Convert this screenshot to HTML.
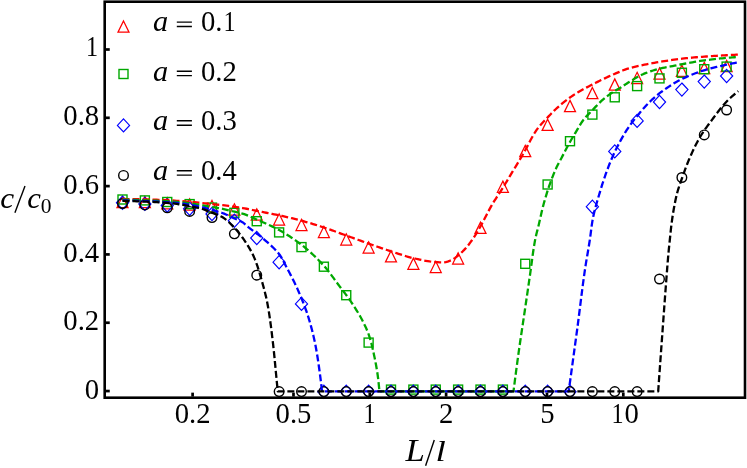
<!DOCTYPE html>
<html><head><meta charset="utf-8"><title>c/c0 vs L/l</title>
<style>
html,body{margin:0;padding:0;background:#fff;}
body{width:747px;height:468px;overflow:hidden;font-family:"Liberation Serif",serif;}
svg{display:block;}
</style></head><body>
<svg width="747" height="468" viewBox="0 0 747 468">
<rect x="0" y="0" width="747" height="468" fill="#ffffff"/>
<g fill="none" stroke-width="1.40" stroke-linejoin="miter">
<path d="M122.50,196.30 L128.00,207.50 L117.00,207.50 Z" stroke="#ff0000" stroke-width="1.25"/>
<path d="M144.88,196.30 L150.38,207.50 L139.38,207.50 Z" stroke="#ff0000" stroke-width="1.25"/>
<path d="M167.25,197.70 L172.75,208.90 L161.75,208.90 Z" stroke="#ff0000" stroke-width="1.25"/>
<path d="M189.62,198.90 L195.12,210.10 L184.12,210.10 Z" stroke="#ff0000" stroke-width="1.25"/>
<path d="M212.00,200.50 L217.50,211.70 L206.50,211.70 Z" stroke="#ff0000" stroke-width="1.25"/>
<path d="M234.38,203.80 L239.88,215.00 L228.88,215.00 Z" stroke="#ff0000" stroke-width="1.25"/>
<path d="M256.75,208.80 L262.25,220.00 L251.25,220.00 Z" stroke="#ff0000" stroke-width="1.25"/>
<path d="M279.12,213.80 L284.62,225.00 L273.62,225.00 Z" stroke="#ff0000" stroke-width="1.25"/>
<path d="M301.50,219.30 L307.00,230.50 L296.00,230.50 Z" stroke="#ff0000" stroke-width="1.25"/>
<path d="M323.88,226.30 L329.38,237.50 L318.38,237.50 Z" stroke="#ff0000" stroke-width="1.25"/>
<path d="M346.25,233.80 L351.75,245.00 L340.75,245.00 Z" stroke="#ff0000" stroke-width="1.25"/>
<path d="M368.62,241.80 L374.12,253.00 L363.12,253.00 Z" stroke="#ff0000" stroke-width="1.25"/>
<path d="M391.00,250.70 L396.50,261.90 L385.50,261.90 Z" stroke="#ff0000" stroke-width="1.25"/>
<path d="M413.38,258.10 L418.88,269.30 L407.88,269.30 Z" stroke="#ff0000" stroke-width="1.25"/>
<path d="M435.75,261.30 L441.25,272.50 L430.25,272.50 Z" stroke="#ff0000" stroke-width="1.25"/>
<path d="M458.12,252.80 L463.62,264.00 L452.62,264.00 Z" stroke="#ff0000" stroke-width="1.25"/>
<path d="M480.50,222.25 L486.00,233.45 L475.00,233.45 Z" stroke="#ff0000" stroke-width="1.25"/>
<path d="M502.88,181.10 L508.38,192.30 L497.38,192.30 Z" stroke="#ff0000" stroke-width="1.25"/>
<path d="M525.25,145.40 L530.75,156.60 L519.75,156.60 Z" stroke="#ff0000" stroke-width="1.25"/>
<path d="M547.62,119.20 L553.12,130.40 L542.12,130.40 Z" stroke="#ff0000" stroke-width="1.25"/>
<path d="M570.00,100.40 L575.50,111.60 L564.50,111.60 Z" stroke="#ff0000" stroke-width="1.25"/>
<path d="M592.38,87.50 L597.88,98.70 L586.88,98.70 Z" stroke="#ff0000" stroke-width="1.25"/>
<path d="M614.75,78.90 L620.25,90.10 L609.25,90.10 Z" stroke="#ff0000" stroke-width="1.25"/>
<path d="M637.12,72.30 L642.62,83.50 L631.62,83.50 Z" stroke="#ff0000" stroke-width="1.25"/>
<path d="M659.50,67.90 L665.00,79.10 L654.00,79.10 Z" stroke="#ff0000" stroke-width="1.25"/>
<path d="M681.88,65.20 L687.38,76.40 L676.38,76.40 Z" stroke="#ff0000" stroke-width="1.25"/>
<path d="M704.25,62.40 L709.75,73.60 L698.75,73.60 Z" stroke="#ff0000" stroke-width="1.25"/>
<path d="M726.62,60.40 L732.12,71.60 L721.12,71.60 Z" stroke="#ff0000" stroke-width="1.25"/>
<rect x="118.00" y="195.00" width="9.00" height="9.00" stroke="#00a800"/>
<rect x="140.38" y="195.90" width="9.00" height="9.00" stroke="#00a800"/>
<rect x="162.75" y="197.50" width="9.00" height="9.00" stroke="#00a800"/>
<rect x="185.12" y="199.60" width="9.00" height="9.00" stroke="#00a800"/>
<rect x="207.50" y="203.10" width="9.00" height="9.00" stroke="#00a800"/>
<rect x="229.88" y="208.30" width="9.00" height="9.00" stroke="#00a800"/>
<rect x="252.25" y="216.70" width="9.00" height="9.00" stroke="#00a800"/>
<rect x="274.62" y="227.90" width="9.00" height="9.00" stroke="#00a800"/>
<rect x="297.00" y="242.60" width="9.00" height="9.00" stroke="#00a800"/>
<rect x="319.38" y="262.20" width="9.00" height="9.00" stroke="#00a800"/>
<rect x="341.75" y="290.70" width="9.00" height="9.00" stroke="#00a800"/>
<rect x="364.12" y="338.10" width="9.00" height="9.00" stroke="#00a800"/>
<rect x="386.50" y="385.10" width="9.00" height="9.00" stroke="#00a800"/>
<rect x="408.88" y="385.10" width="9.00" height="9.00" stroke="#00a800"/>
<rect x="431.25" y="385.10" width="9.00" height="9.00" stroke="#00a800"/>
<rect x="453.62" y="385.10" width="9.00" height="9.00" stroke="#00a800"/>
<rect x="476.00" y="385.10" width="9.00" height="9.00" stroke="#00a800"/>
<rect x="498.38" y="385.10" width="9.00" height="9.00" stroke="#00a800"/>
<rect x="520.75" y="259.30" width="9.00" height="9.00" stroke="#00a800"/>
<rect x="543.12" y="180.00" width="9.00" height="9.00" stroke="#00a800"/>
<rect x="565.50" y="136.70" width="9.00" height="9.00" stroke="#00a800"/>
<rect x="587.88" y="110.10" width="9.00" height="9.00" stroke="#00a800"/>
<rect x="610.25" y="92.80" width="9.00" height="9.00" stroke="#00a800"/>
<rect x="632.62" y="81.60" width="9.00" height="9.00" stroke="#00a800"/>
<rect x="655.00" y="73.90" width="9.00" height="9.00" stroke="#00a800"/>
<rect x="677.38" y="68.25" width="9.00" height="9.00" stroke="#00a800"/>
<rect x="699.75" y="64.70" width="9.00" height="9.00" stroke="#00a800"/>
<rect x="722.12" y="62.10" width="9.00" height="9.00" stroke="#00a800"/>
<path d="M122.50,196.20 L128.60,202.80 L122.50,209.40 L116.40,202.80 Z" stroke="#0000ff" stroke-width="1.15"/>
<path d="M144.88,197.30 L150.97,203.90 L144.88,210.50 L138.78,203.90 Z" stroke="#0000ff" stroke-width="1.15"/>
<path d="M167.25,198.90 L173.35,205.50 L167.25,212.10 L161.15,205.50 Z" stroke="#0000ff" stroke-width="1.15"/>
<path d="M189.62,202.10 L195.72,208.70 L189.62,215.30 L183.53,208.70 Z" stroke="#0000ff" stroke-width="1.15"/>
<path d="M212.00,207.40 L218.10,214.00 L212.00,220.60 L205.90,214.00 Z" stroke="#0000ff" stroke-width="1.15"/>
<path d="M234.38,214.20 L240.47,220.80 L234.38,227.40 L228.28,220.80 Z" stroke="#0000ff" stroke-width="1.15"/>
<path d="M256.75,231.40 L262.85,238.00 L256.75,244.60 L250.65,238.00 Z" stroke="#0000ff" stroke-width="1.15"/>
<path d="M279.12,255.60 L285.23,262.20 L279.12,268.80 L273.02,262.20 Z" stroke="#0000ff" stroke-width="1.15"/>
<path d="M301.50,297.30 L307.60,303.90 L301.50,310.50 L295.40,303.90 Z" stroke="#0000ff" stroke-width="1.15"/>
<path d="M323.88,385.20 L329.98,391.80 L323.88,398.40 L317.77,391.80 Z" stroke="#0000ff" stroke-width="1.15"/>
<path d="M346.25,385.20 L352.35,391.80 L346.25,398.40 L340.15,391.80 Z" stroke="#0000ff" stroke-width="1.15"/>
<path d="M368.62,385.20 L374.73,391.80 L368.62,398.40 L362.52,391.80 Z" stroke="#0000ff" stroke-width="1.15"/>
<path d="M391.00,385.20 L397.10,391.80 L391.00,398.40 L384.90,391.80 Z" stroke="#0000ff" stroke-width="1.15"/>
<path d="M413.38,385.20 L419.48,391.80 L413.38,398.40 L407.27,391.80 Z" stroke="#0000ff" stroke-width="1.15"/>
<path d="M435.75,385.20 L441.85,391.80 L435.75,398.40 L429.65,391.80 Z" stroke="#0000ff" stroke-width="1.15"/>
<path d="M458.12,385.20 L464.23,391.80 L458.12,398.40 L452.02,391.80 Z" stroke="#0000ff" stroke-width="1.15"/>
<path d="M480.50,385.20 L486.60,391.80 L480.50,398.40 L474.40,391.80 Z" stroke="#0000ff" stroke-width="1.15"/>
<path d="M502.88,385.20 L508.98,391.80 L502.88,398.40 L496.77,391.80 Z" stroke="#0000ff" stroke-width="1.15"/>
<path d="M525.25,385.20 L531.35,391.80 L525.25,398.40 L519.15,391.80 Z" stroke="#0000ff" stroke-width="1.15"/>
<path d="M547.62,385.20 L553.73,391.80 L547.62,398.40 L541.52,391.80 Z" stroke="#0000ff" stroke-width="1.15"/>
<path d="M570.00,385.20 L576.10,391.80 L570.00,398.40 L563.90,391.80 Z" stroke="#0000ff" stroke-width="1.15"/>
<path d="M592.38,200.10 L598.48,206.70 L592.38,213.30 L586.27,206.70 Z" stroke="#0000ff" stroke-width="1.15"/>
<path d="M614.75,144.80 L620.85,151.40 L614.75,158.00 L608.65,151.40 Z" stroke="#0000ff" stroke-width="1.15"/>
<path d="M637.12,114.30 L643.23,120.90 L637.12,127.50 L631.02,120.90 Z" stroke="#0000ff" stroke-width="1.15"/>
<path d="M659.50,95.40 L665.60,102.00 L659.50,108.60 L653.40,102.00 Z" stroke="#0000ff" stroke-width="1.15"/>
<path d="M681.88,83.00 L687.98,89.60 L681.88,96.20 L675.77,89.60 Z" stroke="#0000ff" stroke-width="1.15"/>
<path d="M704.25,75.00 L710.35,81.60 L704.25,88.20 L698.15,81.60 Z" stroke="#0000ff" stroke-width="1.15"/>
<path d="M726.62,69.40 L732.73,76.00 L726.62,82.60 L720.52,76.00 Z" stroke="#0000ff" stroke-width="1.15"/>
<circle cx="122.50" cy="203.50" r="4.80" stroke="#000000"/>
<circle cx="144.88" cy="204.90" r="4.80" stroke="#000000"/>
<circle cx="167.25" cy="207.80" r="4.80" stroke="#000000"/>
<circle cx="189.62" cy="211.40" r="4.80" stroke="#000000"/>
<circle cx="212.00" cy="217.60" r="4.80" stroke="#000000"/>
<circle cx="234.38" cy="233.80" r="4.80" stroke="#000000"/>
<circle cx="256.75" cy="275.20" r="4.80" stroke="#000000"/>
<circle cx="279.12" cy="391.60" r="4.80" stroke="#000000"/>
<circle cx="301.50" cy="391.60" r="4.80" stroke="#000000"/>
<circle cx="323.88" cy="391.60" r="4.80" stroke="#000000"/>
<circle cx="346.25" cy="391.60" r="4.80" stroke="#000000"/>
<circle cx="368.62" cy="391.60" r="4.80" stroke="#000000"/>
<circle cx="391.00" cy="391.60" r="4.80" stroke="#000000"/>
<circle cx="413.38" cy="391.60" r="4.80" stroke="#000000"/>
<circle cx="435.75" cy="391.60" r="4.80" stroke="#000000"/>
<circle cx="458.12" cy="391.60" r="4.80" stroke="#000000"/>
<circle cx="480.50" cy="391.60" r="4.80" stroke="#000000"/>
<circle cx="502.88" cy="391.60" r="4.80" stroke="#000000"/>
<circle cx="525.25" cy="391.60" r="4.80" stroke="#000000"/>
<circle cx="547.62" cy="391.60" r="4.80" stroke="#000000"/>
<circle cx="570.00" cy="391.60" r="4.80" stroke="#000000"/>
<circle cx="592.38" cy="391.60" r="4.80" stroke="#000000"/>
<circle cx="614.75" cy="391.60" r="4.80" stroke="#000000"/>
<circle cx="637.12" cy="391.60" r="4.80" stroke="#000000"/>
<circle cx="659.50" cy="279.00" r="4.80" stroke="#000000"/>
<circle cx="681.88" cy="177.50" r="4.80" stroke="#000000"/>
<circle cx="704.25" cy="134.90" r="4.80" stroke="#000000"/>
<circle cx="726.62" cy="110.00" r="4.80" stroke="#000000"/>
</g>
<g fill="none" stroke-width="2.30" stroke-dasharray="7.0 3.0" stroke-linejoin="round">
<path d="M122.50,199.00 L124.51,199.02 L126.52,199.04 L128.53,199.07 L130.54,199.10 L132.54,199.14 L134.55,199.17 L136.56,199.21 L138.57,199.25 L140.58,199.30 L142.59,199.34 L144.60,199.39 L146.60,199.44 L148.61,199.49 L150.62,199.55 L152.63,199.61 L154.64,199.68 L156.65,199.74 L158.65,199.82 L160.66,199.90 L162.67,199.98 L164.68,200.07 L166.68,200.16 L168.69,200.25 L170.69,200.37 L172.70,200.50 L174.70,200.64 L176.71,200.78 L178.71,200.93 L180.71,201.07 L182.72,201.22 L184.72,201.37 L186.72,201.53 L188.73,201.69 L190.73,201.86 L192.73,202.05 L194.73,202.24 L196.73,202.43 L198.73,202.64 L200.73,202.85 L202.72,203.06 L204.72,203.28 L206.72,203.50 L208.71,203.73 L210.71,203.96 L212.71,204.17 L214.71,204.38 L216.71,204.57 L218.71,204.76 L220.70,204.97 L222.70,205.19 L224.69,205.43 L226.69,205.70 L228.68,205.97 L230.66,206.26 L232.65,206.55 L234.64,206.83 L236.63,207.12 L238.62,207.40 L240.61,207.69 L242.59,208.02 L244.57,208.37 L246.54,208.75 L248.50,209.16 L250.47,209.58 L252.44,210.00 L254.40,210.42 L256.37,210.83 L258.34,211.23 L260.31,211.61 L262.28,211.99 L264.26,212.37 L266.23,212.75 L268.20,213.12 L270.18,213.51 L272.15,213.89 L274.12,214.28 L276.09,214.68 L278.05,215.10 L280.02,215.52 L281.98,215.95 L283.94,216.39 L285.90,216.84 L287.86,217.29 L289.81,217.75 L291.77,218.22 L293.72,218.70 L295.67,219.18 L297.62,219.68 L299.56,220.19 L301.50,220.70 L303.44,221.23 L305.37,221.77 L307.30,222.32 L309.23,222.89 L311.16,223.46 L313.08,224.05 L315.00,224.64 L316.92,225.24 L318.83,225.85 L320.75,226.47 L322.66,227.09 L324.56,227.72 L326.47,228.36 L328.36,229.01 L330.26,229.68 L332.15,230.35 L334.04,231.04 L335.93,231.72 L337.82,232.42 L339.70,233.11 L341.59,233.80 L343.48,234.49 L345.37,235.18 L347.26,235.86 L349.14,236.55 L351.03,237.23 L352.92,237.92 L354.81,238.61 L356.69,239.30 L358.58,239.99 L360.47,240.68 L362.36,241.37 L364.25,242.05 L366.14,242.73 L368.03,243.40 L369.92,244.07 L371.82,244.74 L373.71,245.40 L375.61,246.07 L377.51,246.73 L379.40,247.39 L381.30,248.05 L383.20,248.70 L385.11,249.34 L387.01,249.98 L388.92,250.62 L390.83,251.24 L392.74,251.87 L394.64,252.51 L396.55,253.15 L398.46,253.80 L400.37,254.44 L402.29,255.07 L404.20,255.68 L406.13,256.27 L408.05,256.83 L409.99,257.36 L411.93,257.86 L413.87,258.31 L415.83,258.75 L417.79,259.19 L419.76,259.62 L421.73,260.04 L423.71,260.44 L425.69,260.82 L427.68,261.16 L429.67,261.47 L431.66,261.73 L433.65,261.94 L435.65,262.10 L437.65,262.22 L439.67,262.32 L441.68,262.39 L443.67,262.38 L445.67,262.09 L447.66,261.57 L449.58,260.91 L451.40,260.21 L453.14,259.27 L454.82,258.12 L456.44,256.85 L458.01,255.57 L459.55,254.30 L461.05,252.96 L462.52,251.56 L463.94,250.13 L465.32,248.66 L466.65,247.16 L467.93,245.63 L469.16,244.05 L470.36,242.43 L471.53,240.79 L472.67,239.12 L473.79,237.44 L474.89,235.77 L475.96,234.07 L477.01,232.36 L478.03,230.63 L479.04,228.89 L480.04,227.14 L481.02,225.39 L481.99,223.63 L482.94,221.86 L483.87,220.08 L484.80,218.29 L485.72,216.50 L486.64,214.71 L487.56,212.93 L488.49,211.15 L489.43,209.37 L490.39,207.61 L491.37,205.86 L492.38,204.12 L493.42,202.41 L494.48,200.70 L495.56,199.01 L496.65,197.33 L497.76,195.65 L498.86,193.97 L499.97,192.29 L501.06,190.60 L502.15,188.91 L503.21,187.20 L504.26,185.49 L505.30,183.77 L506.34,182.05 L507.37,180.33 L508.40,178.60 L509.43,176.88 L510.46,175.15 L511.49,173.42 L512.52,171.70 L513.55,169.98 L514.60,168.26 L515.64,166.54 L516.68,164.83 L517.73,163.11 L518.77,161.39 L519.81,159.67 L520.84,157.95 L521.87,156.22 L522.88,154.49 L523.87,152.74 L524.84,150.97 L525.80,149.19 L526.74,147.40 L527.67,145.60 L528.60,143.80 L529.53,142.00 L530.47,140.22 L531.43,138.45 L532.41,136.69 L533.41,134.96 L534.44,133.25 L535.51,131.57 L536.62,129.93 L537.79,128.33 L539.02,126.77 L540.31,125.23 L541.64,123.72 L543.01,122.23 L544.40,120.76 L545.80,119.30 L547.19,117.84 L548.57,116.38 L549.96,114.93 L551.36,113.49 L552.78,112.06 L554.21,110.64 L555.67,109.26 L557.14,107.90 L558.63,106.56 L560.15,105.25 L561.69,103.95 L563.24,102.67 L564.82,101.42 L566.41,100.18 L568.01,98.97 L569.63,97.79 L571.27,96.64 L572.93,95.50 L574.61,94.40 L576.31,93.31 L578.02,92.26 L579.74,91.23 L581.48,90.22 L583.23,89.25 L585.00,88.30 L586.79,87.37 L588.58,86.45 L590.37,85.54 L592.16,84.62 L593.95,83.71 L595.73,82.79 L597.52,81.88 L599.32,80.97 L601.12,80.08 L602.93,79.20 L604.74,78.34 L606.56,77.49 L608.38,76.65 L610.21,75.82 L612.05,75.00 L613.89,74.19 L615.73,73.39 L617.58,72.60 L619.44,71.83 L621.29,71.06 L623.16,70.29 L625.03,69.56 L626.93,68.92 L628.84,68.37 L630.77,67.84 L632.70,67.34 L634.65,66.85 L636.60,66.39 L638.56,65.94 L640.53,65.51 L642.50,65.09 L644.47,64.69 L646.45,64.30 L648.44,63.92 L650.42,63.55 L652.40,63.19 L654.39,62.83 L656.37,62.48 L658.35,62.13 L660.32,61.79 L662.30,61.45 L664.29,61.13 L666.27,60.82 L668.26,60.53 L670.25,60.24 L672.24,59.96 L674.23,59.69 L676.22,59.43 L678.22,59.17 L680.21,58.92 L682.20,58.67 L684.20,58.44 L686.20,58.21 L688.19,58.00 L690.19,57.80 L692.19,57.62 L694.19,57.44 L696.19,57.27 L698.19,57.11 L700.20,56.95 L702.20,56.80 L704.20,56.65 L706.21,56.51 L708.21,56.37 L710.22,56.23 L712.22,56.10 L714.23,55.97 L716.23,55.84 L718.24,55.71 L720.25,55.59 L722.25,55.47 L724.26,55.35 L726.26,55.23 L728.27,55.12 L730.27,55.01 L732.28,54.90 L734.29,54.80 L736.29,54.70 L738.30,54.60" stroke="#ff0000"/>
<path d="M122.50,199.60 L124.52,199.65 L126.53,199.71 L128.55,199.77 L130.57,199.83 L132.58,199.89 L134.60,199.95 L136.61,200.02 L138.63,200.08 L140.65,200.15 L142.66,200.22 L144.68,200.29 L146.69,200.36 L148.71,200.43 L150.73,200.50 L152.74,200.56 L154.76,200.64 L156.77,200.71 L158.79,200.79 L160.81,200.87 L162.82,200.96 L164.83,201.05 L166.85,201.16 L168.86,201.28 L170.87,201.42 L172.88,201.58 L174.89,201.75 L176.90,201.94 L178.91,202.13 L180.92,202.31 L182.93,202.51 L184.94,202.71 L186.94,202.93 L188.94,203.17 L190.94,203.43 L192.94,203.72 L194.93,204.04 L196.92,204.38 L198.90,204.73 L200.89,205.08 L202.88,205.42 L204.87,205.76 L206.86,206.10 L208.84,206.45 L210.83,206.80 L212.82,207.14 L214.81,207.48 L216.80,207.81 L218.79,208.15 L220.77,208.51 L222.75,208.89 L224.72,209.31 L226.68,209.77 L228.64,210.26 L230.60,210.76 L232.55,211.25 L234.52,211.73 L236.49,212.17 L238.47,212.60 L240.43,213.05 L242.37,213.56 L244.28,214.17 L246.17,214.86 L248.04,215.61 L249.89,216.41 L251.74,217.25 L253.59,218.09 L255.43,218.93 L257.27,219.75 L259.12,220.56 L260.97,221.37 L262.82,222.19 L264.67,223.01 L266.52,223.84 L268.36,224.68 L270.19,225.54 L272.01,226.41 L273.82,227.29 L275.62,228.20 L277.40,229.13 L279.16,230.09 L280.91,231.07 L282.66,232.07 L284.39,233.10 L286.12,234.15 L287.85,235.22 L289.56,236.32 L291.25,237.43 L292.94,238.56 L294.60,239.71 L296.25,240.88 L297.89,242.06 L299.50,243.26 L301.09,244.48 L302.66,245.71 L304.22,246.97 L305.77,248.25 L307.31,249.56 L308.84,250.88 L310.36,252.23 L311.86,253.60 L313.34,254.98 L314.81,256.39 L316.27,257.80 L317.70,259.23 L319.12,260.68 L320.52,262.14 L321.90,263.60 L323.25,265.08 L324.58,266.57 L325.89,268.09 L327.16,269.64 L328.42,271.22 L329.65,272.82 L330.87,274.43 L332.07,276.06 L333.27,277.69 L334.46,279.33 L335.66,280.96 L336.86,282.59 L338.06,284.21 L339.27,285.83 L340.49,287.43 L341.72,289.04 L342.94,290.65 L344.16,292.26 L345.37,293.88 L346.58,295.50 L347.77,297.12 L348.95,298.76 L350.10,300.41 L351.24,302.07 L352.36,303.74 L353.47,305.43 L354.57,307.12 L355.66,308.82 L356.73,310.54 L357.79,312.26 L358.83,314.00 L359.84,315.74 L360.82,317.50 L361.77,319.28 L362.69,321.06 L363.59,322.86 L364.49,324.68 L365.37,326.51 L366.21,328.35 L367.02,330.21 L367.79,332.08 L368.50,333.96 L369.15,335.85 L369.75,337.76 L370.33,339.68 L370.88,341.62 L371.40,343.57 L371.90,345.53 L372.38,347.50 L372.84,349.47 L373.29,351.45 L373.72,353.43 L374.13,355.40 L374.54,357.37 L374.94,359.35 L375.33,361.33 L375.72,363.31 L376.09,365.30 L376.44,367.28 L376.78,369.27 L377.11,371.27 L377.41,373.26 L377.70,375.26 L377.96,377.25 L378.21,379.25 L378.44,381.25 L378.66,383.26 L378.87,385.27 L379.06,387.28 L379.24,389.29 L379.40,391.30 L513.50,391.30 L513.75,389.31 L514.00,387.31 L514.26,385.32 L514.52,383.33 L514.77,381.33 L515.03,379.34 L515.29,377.35 L515.55,375.36 L515.82,373.37 L516.08,371.37 L516.35,369.38 L516.61,367.39 L516.88,365.40 L517.15,363.41 L517.42,361.42 L517.69,359.43 L517.97,357.44 L518.24,355.45 L518.52,353.46 L518.79,351.47 L519.07,349.48 L519.35,347.49 L519.64,345.50 L519.92,343.51 L520.21,341.52 L520.50,339.54 L520.79,337.55 L521.09,335.56 L521.38,333.57 L521.68,331.59 L521.98,329.60 L522.27,327.61 L522.57,325.62 L522.87,323.64 L523.17,321.65 L523.47,319.66 L523.76,317.68 L524.06,315.69 L524.35,313.70 L524.65,311.71 L524.94,309.73 L525.23,307.74 L525.52,305.75 L525.81,303.76 L526.10,301.77 L526.39,299.79 L526.68,297.80 L526.97,295.81 L527.26,293.82 L527.55,291.83 L527.84,289.85 L528.13,287.86 L528.42,285.87 L528.71,283.88 L529.00,281.89 L529.29,279.90 L529.58,277.92 L529.86,275.93 L530.15,273.94 L530.43,271.95 L530.71,269.96 L530.98,267.96 L531.24,265.97 L531.51,263.98 L531.77,261.98 L532.04,259.99 L532.30,257.99 L532.57,256.00 L532.85,254.01 L533.13,252.02 L533.43,250.03 L533.73,248.05 L534.04,246.07 L534.37,244.09 L534.71,242.11 L535.07,240.14 L535.46,238.18 L535.90,236.22 L536.36,234.26 L536.85,232.31 L537.35,230.36 L537.85,228.41 L538.34,226.46 L538.82,224.51 L539.27,222.55 L539.72,220.59 L540.16,218.63 L540.60,216.67 L541.04,214.71 L541.49,212.75 L541.95,210.79 L542.42,208.84 L542.90,206.89 L543.41,204.95 L543.93,203.01 L544.47,201.08 L545.02,199.15 L545.59,197.22 L546.18,195.29 L546.77,193.37 L547.38,191.45 L548.01,189.54 L548.64,187.64 L549.29,185.74 L549.95,183.84 L550.62,181.95 L551.31,180.06 L552.02,178.18 L552.75,176.30 L553.50,174.43 L554.26,172.57 L555.05,170.72 L555.86,168.89 L556.69,167.07 L557.58,165.27 L558.50,163.48 L559.45,161.71 L560.42,159.95 L561.37,158.18 L562.31,156.40 L563.24,154.62 L564.17,152.83 L565.09,151.05 L566.02,149.26 L566.95,147.49 L567.90,145.71 L568.85,143.95 L569.83,142.19 L570.82,140.45 L571.83,138.71 L572.86,136.98 L573.89,135.26 L574.93,133.54 L575.97,131.82 L577.00,130.08 L578.01,128.34 L579.04,126.59 L580.08,124.87 L581.15,123.17 L582.26,121.50 L583.43,119.89 L584.67,118.34 L585.98,116.83 L587.35,115.36 L588.76,113.91 L590.18,112.47 L591.60,111.03 L592.99,109.58 L594.37,108.12 L595.75,106.65 L597.14,105.18 L598.54,103.74 L599.96,102.32 L601.42,100.94 L602.90,99.61 L604.44,98.32 L606.01,97.07 L607.61,95.85 L609.25,94.66 L610.90,93.51 L612.56,92.39 L614.26,91.34 L616.00,90.33 L617.75,89.33 L619.49,88.32 L621.19,87.24 L622.86,86.13 L624.53,85.01 L626.20,83.90 L627.91,82.84 L629.61,81.76 L631.32,80.68 L633.04,79.60 L634.76,78.54 L636.50,77.52 L638.25,76.53 L640.02,75.59 L641.81,74.73 L643.63,73.93 L645.48,73.18 L647.35,72.46 L649.24,71.77 L651.15,71.11 L653.08,70.49 L655.01,69.90 L656.95,69.36 L658.89,68.85 L660.84,68.39 L662.80,67.97 L664.77,67.58 L666.75,67.21 L668.73,66.85 L670.71,66.49 L672.68,66.10 L674.65,65.70 L676.62,65.30 L678.59,64.89 L680.56,64.50 L682.53,64.12 L684.51,63.75 L686.48,63.37 L688.46,63.00 L690.43,62.62 L692.41,62.26 L694.39,61.91 L696.37,61.56 L698.35,61.24 L700.34,60.93 L702.32,60.64 L704.31,60.37 L706.30,60.12 L708.29,59.87 L710.28,59.62 L712.28,59.38 L714.27,59.15 L716.26,58.92 L718.26,58.70 L720.26,58.48 L722.26,58.28 L724.26,58.08 L726.26,57.89 L728.26,57.72 L730.27,57.55 L732.27,57.39 L734.28,57.25 L736.29,57.12 L738.30,57.00" stroke="#00a800"/>
<path d="M122.50,200.40 L124.52,200.45 L126.54,200.50 L128.56,200.55 L130.57,200.61 L132.59,200.67 L134.61,200.73 L136.63,200.80 L138.65,200.87 L140.66,200.94 L142.68,201.01 L144.70,201.09 L146.72,201.17 L148.73,201.25 L150.75,201.33 L152.77,201.41 L154.79,201.50 L156.80,201.60 L158.82,201.70 L160.84,201.80 L162.85,201.91 L164.87,202.03 L166.88,202.15 L168.90,202.29 L170.91,202.44 L172.92,202.61 L174.93,202.80 L176.94,203.00 L178.95,203.22 L180.95,203.45 L182.96,203.71 L184.96,203.99 L186.95,204.30 L188.95,204.62 L190.94,204.96 L192.92,205.32 L194.91,205.71 L196.89,206.11 L198.86,206.54 L200.83,206.98 L202.79,207.44 L204.75,207.94 L206.70,208.48 L208.64,209.03 L210.58,209.59 L212.52,210.15 L214.47,210.69 L216.42,211.23 L218.37,211.78 L220.30,212.37 L222.21,212.99 L224.09,213.69 L225.96,214.45 L227.80,215.28 L229.63,216.14 L231.46,217.01 L233.29,217.88 L235.12,218.73 L237.00,219.53 L238.87,220.34 L240.70,221.20 L242.43,222.16 L244.05,223.32 L245.57,224.65 L247.08,226.03 L248.62,227.34 L250.21,228.60 L251.81,229.83 L253.42,231.06 L255.04,232.27 L256.66,233.48 L258.27,234.70 L259.87,235.94 L261.45,237.19 L263.00,238.48 L264.52,239.79 L266.03,241.13 L267.56,242.47 L269.09,243.83 L270.62,245.20 L272.12,246.59 L273.60,248.00 L275.04,249.45 L276.43,250.92 L277.75,252.42 L279.01,253.96 L280.19,255.54 L281.27,257.20 L282.26,258.95 L283.20,260.76 L284.12,262.58 L285.05,264.38 L286.00,266.17 L286.94,267.95 L287.89,269.74 L288.83,271.53 L289.77,273.32 L290.71,275.11 L291.64,276.91 L292.55,278.71 L293.46,280.52 L294.35,282.33 L295.24,284.15 L296.10,285.97 L296.95,287.80 L297.77,289.63 L298.58,291.48 L299.37,293.33 L300.16,295.19 L300.94,297.05 L301.71,298.92 L302.47,300.80 L303.22,302.68 L303.95,304.57 L304.67,306.46 L305.37,308.36 L306.06,310.26 L306.73,312.17 L307.37,314.08 L307.99,316.00 L308.59,317.92 L309.17,319.84 L309.74,321.77 L310.29,323.71 L310.83,325.66 L311.36,327.61 L311.88,329.57 L312.39,331.53 L312.87,333.49 L313.35,335.46 L313.81,337.43 L314.25,339.40 L314.68,341.38 L315.08,343.35 L315.47,345.33 L315.84,347.31 L316.20,349.29 L316.55,351.28 L316.89,353.26 L317.22,355.26 L317.54,357.25 L317.85,359.25 L318.15,361.24 L318.45,363.24 L318.73,365.24 L319.01,367.25 L319.29,369.25 L319.56,371.25 L319.83,373.26 L320.09,375.26 L320.35,377.26 L320.61,379.27 L320.86,381.27 L321.10,383.27 L321.34,385.28 L321.56,387.28 L321.78,389.29 L322.00,391.30 L568.70,391.30 L568.97,389.31 L569.25,387.31 L569.52,385.32 L569.80,383.32 L570.07,381.33 L570.35,379.34 L570.62,377.34 L570.90,375.35 L571.17,373.35 L571.44,371.36 L571.72,369.37 L571.99,367.37 L572.26,365.38 L572.54,363.38 L572.81,361.39 L573.08,359.40 L573.36,357.40 L573.63,355.41 L573.90,353.41 L574.18,351.42 L574.45,349.43 L574.72,347.43 L575.00,345.44 L575.27,343.44 L575.54,341.45 L575.82,339.45 L576.09,337.46 L576.36,335.47 L576.63,333.47 L576.90,331.48 L577.16,329.48 L577.43,327.49 L577.69,325.49 L577.95,323.49 L578.21,321.50 L578.46,319.50 L578.72,317.50 L578.97,315.51 L579.22,313.51 L579.47,311.51 L579.72,309.51 L579.97,307.52 L580.22,305.52 L580.46,303.52 L580.71,301.52 L580.96,299.53 L581.21,297.53 L581.46,295.53 L581.72,293.53 L581.97,291.54 L582.23,289.54 L582.49,287.54 L582.75,285.55 L583.01,283.55 L583.28,281.56 L583.55,279.57 L583.82,277.57 L584.10,275.58 L584.38,273.59 L584.67,271.59 L584.96,269.60 L585.26,267.61 L585.57,265.63 L585.89,263.64 L586.21,261.65 L586.54,259.67 L586.88,257.68 L587.22,255.70 L587.56,253.71 L587.90,251.73 L588.23,249.74 L588.56,247.76 L588.89,245.77 L589.21,243.79 L589.53,241.80 L589.83,239.81 L590.11,237.81 L590.38,235.82 L590.64,233.82 L590.90,231.82 L591.15,229.82 L591.41,227.82 L591.68,225.82 L591.97,223.83 L592.28,221.85 L592.62,219.88 L593.00,217.91 L593.40,215.94 L593.84,213.98 L594.30,212.02 L594.78,210.07 L595.29,208.12 L595.82,206.17 L596.36,204.23 L596.91,202.29 L597.47,200.35 L598.04,198.41 L598.61,196.48 L599.19,194.54 L599.76,192.61 L600.33,190.68 L600.91,188.76 L601.50,186.83 L602.10,184.91 L602.71,182.99 L603.34,181.08 L603.98,179.17 L604.63,177.26 L605.29,175.36 L605.95,173.46 L606.64,171.57 L607.33,169.68 L608.04,167.79 L608.76,165.91 L609.49,164.04 L610.25,162.17 L611.01,160.31 L611.80,158.46 L612.61,156.62 L613.43,154.78 L614.28,152.95 L615.14,151.13 L616.03,149.32 L616.92,147.52 L617.84,145.73 L618.76,143.95 L619.71,142.17 L620.67,140.39 L621.64,138.62 L622.63,136.87 L623.65,135.12 L624.68,133.39 L625.73,131.67 L626.80,129.98 L627.90,128.30 L629.03,126.64 L630.19,125.00 L631.38,123.38 L632.60,121.77 L633.84,120.17 L635.09,118.59 L636.35,117.02 L637.62,115.46 L638.90,113.91 L640.19,112.36 L641.49,110.82 L642.81,109.29 L644.15,107.78 L645.50,106.28 L646.87,104.81 L648.26,103.35 L649.67,101.93 L651.10,100.53 L652.57,99.14 L654.06,97.78 L655.58,96.45 L657.13,95.16 L658.70,93.91 L660.29,92.70 L661.90,91.50 L663.53,90.31 L665.18,89.14 L666.84,87.98 L668.52,86.84 L670.22,85.73 L671.93,84.64 L673.65,83.57 L675.39,82.54 L677.14,81.55 L678.90,80.59 L680.67,79.67 L682.45,78.79 L684.25,77.93 L686.07,77.09 L687.92,76.28 L689.77,75.48 L691.64,74.71 L693.53,73.97 L695.42,73.25 L697.32,72.55 L699.23,71.88 L701.14,71.24 L703.06,70.62 L704.97,70.04 L706.89,69.47 L708.83,68.94 L710.77,68.42 L712.72,67.92 L714.68,67.43 L716.64,66.96 L718.60,66.50 L720.57,66.05 L722.54,65.61 L724.51,65.17 L726.47,64.73 L728.44,64.30 L730.40,63.88 L732.37,63.47 L734.35,63.07 L736.32,62.68 L738.30,62.30" stroke="#0000ff"/>
<path d="M122.50,200.90 L124.52,200.94 L126.53,200.98 L128.55,201.03 L130.56,201.09 L132.58,201.15 L134.59,201.21 L136.61,201.28 L138.62,201.35 L140.64,201.43 L142.65,201.51 L144.66,201.59 L146.68,201.67 L148.69,201.76 L150.71,201.85 L152.72,201.95 L154.74,202.05 L156.75,202.16 L158.76,202.28 L160.78,202.40 L162.79,202.54 L164.80,202.68 L166.80,202.84 L168.81,203.01 L170.81,203.21 L172.82,203.45 L174.82,203.71 L176.82,203.98 L178.81,204.27 L180.81,204.57 L182.80,204.88 L184.78,205.23 L186.77,205.58 L188.75,205.96 L190.73,206.34 L192.71,206.73 L194.69,207.12 L196.67,207.54 L198.64,207.98 L200.59,208.46 L202.52,208.99 L204.43,209.62 L206.32,210.33 L208.19,211.10 L210.05,211.88 L211.92,212.67 L213.80,213.42 L215.71,214.15 L217.61,214.91 L219.48,215.70 L221.28,216.56 L222.99,217.51 L224.62,218.60 L226.21,219.81 L227.75,221.12 L229.26,222.51 L230.72,223.95 L232.15,225.42 L233.55,226.90 L234.92,228.36 L236.27,229.85 L237.59,231.37 L238.89,232.93 L240.16,234.51 L241.40,236.12 L242.60,237.74 L243.77,239.39 L244.90,241.05 L246.00,242.72 L247.09,244.42 L248.16,246.14 L249.21,247.88 L250.23,249.63 L251.21,251.41 L252.15,253.20 L253.04,255.01 L253.88,256.83 L254.66,258.66 L255.40,260.52 L256.11,262.40 L256.79,264.29 L257.44,266.21 L258.07,268.13 L258.68,270.07 L259.27,272.01 L259.84,273.95 L260.41,275.89 L260.96,277.82 L261.52,279.76 L262.07,281.70 L262.61,283.64 L263.15,285.59 L263.68,287.54 L264.20,289.49 L264.70,291.45 L265.19,293.41 L265.67,295.37 L266.13,297.33 L266.56,299.30 L266.98,301.27 L267.37,303.24 L267.74,305.22 L268.09,307.20 L268.43,309.18 L268.75,311.16 L269.07,313.15 L269.37,315.14 L269.67,317.14 L269.96,319.13 L270.24,321.13 L270.51,323.13 L270.78,325.13 L271.04,327.13 L271.29,329.14 L271.54,331.14 L271.78,333.15 L272.02,335.15 L272.26,337.15 L272.50,339.16 L272.73,341.16 L272.97,343.16 L273.19,345.16 L273.41,347.17 L273.63,349.17 L273.84,351.17 L274.05,353.18 L274.25,355.18 L274.45,357.19 L274.65,359.20 L274.84,361.20 L275.03,363.21 L275.22,365.22 L275.41,367.23 L275.60,369.23 L275.79,371.24 L275.98,373.25 L276.18,375.25 L276.37,377.26 L276.57,379.27 L276.76,381.27 L276.97,383.28 L277.17,385.29 L277.38,387.29 L277.59,389.30 L277.80,391.30 L658.20,391.30 L658.34,389.28 L658.49,387.26 L658.63,385.24 L658.77,383.22 L658.91,381.20 L659.06,379.18 L659.20,377.16 L659.35,375.14 L659.49,373.12 L659.63,371.10 L659.78,369.09 L659.92,367.07 L660.07,365.05 L660.21,363.03 L660.36,361.01 L660.50,358.99 L660.65,356.97 L660.79,354.95 L660.94,352.93 L661.08,350.91 L661.23,348.89 L661.37,346.87 L661.52,344.85 L661.67,342.83 L661.81,340.81 L661.96,338.80 L662.11,336.78 L662.25,334.76 L662.40,332.74 L662.55,330.72 L662.69,328.70 L662.84,326.68 L662.99,324.66 L663.14,322.64 L663.28,320.62 L663.43,318.60 L663.58,316.58 L663.72,314.56 L663.87,312.55 L664.02,310.53 L664.17,308.51 L664.31,306.49 L664.46,304.47 L664.61,302.45 L664.76,300.43 L664.91,298.41 L665.06,296.39 L665.21,294.37 L665.36,292.35 L665.51,290.34 L665.66,288.32 L665.82,286.30 L665.97,284.28 L666.13,282.26 L666.28,280.24 L666.44,278.22 L666.59,276.20 L666.75,274.19 L666.90,272.17 L667.06,270.15 L667.21,268.13 L667.37,266.11 L667.53,264.09 L667.69,262.07 L667.86,260.06 L668.03,258.04 L668.21,256.02 L668.39,254.01 L668.58,251.99 L668.77,249.98 L668.98,247.96 L669.18,245.95 L669.39,243.93 L669.60,241.92 L669.81,239.91 L670.02,237.89 L670.22,235.88 L670.43,233.86 L670.63,231.85 L670.84,229.83 L671.06,227.82 L671.29,225.81 L671.54,223.80 L671.80,221.79 L672.08,219.79 L672.37,217.79 L672.67,215.78 L672.98,213.78 L673.31,211.77 L673.65,209.77 L674.01,207.77 L674.37,205.78 L674.76,203.79 L675.16,201.80 L675.57,199.82 L676.00,197.84 L676.45,195.88 L676.92,193.92 L677.43,191.97 L677.99,190.03 L678.59,188.09 L679.23,186.17 L679.88,184.25 L680.55,182.33 L681.23,180.41 L681.90,178.50 L682.57,176.59 L683.24,174.68 L683.92,172.77 L684.62,170.87 L685.32,168.97 L686.03,167.07 L686.76,165.18 L687.50,163.29 L688.26,161.41 L689.03,159.54 L689.82,157.68 L690.62,155.83 L691.45,153.99 L692.29,152.14 L693.14,150.30 L694.02,148.47 L694.91,146.64 L695.83,144.82 L696.76,143.02 L697.71,141.23 L698.69,139.46 L699.68,137.71 L700.70,135.97 L701.75,134.26 L702.84,132.56 L703.97,130.88 L705.12,129.21 L706.30,127.56 L707.49,125.91 L708.70,124.28 L709.91,122.65 L711.13,121.03 L712.35,119.41 L713.55,117.78 L714.76,116.15 L715.97,114.52 L717.19,112.89 L718.42,111.27 L719.66,109.66 L720.92,108.07 L722.21,106.50 L723.51,104.96 L724.85,103.45 L726.21,101.98 L727.61,100.55 L729.05,99.14 L730.52,97.75 L732.02,96.39 L733.55,95.06 L735.11,93.75 L736.69,92.46 L738.30,91.20" stroke="#000000" stroke-width="2.3"/>
</g>
<rect x="104.70" y="1.70" width="640.30" height="396.00" fill="none" stroke="#000" stroke-width="2.60"/>
<g stroke="#000" stroke-width="2.70">
<line x1="105.80" y1="391.05" x2="109.75" y2="391.05"/>
<line x1="105.80" y1="322.74" x2="109.75" y2="322.74"/>
<line x1="105.80" y1="254.43" x2="109.75" y2="254.43"/>
<line x1="105.80" y1="186.12" x2="109.75" y2="186.12"/>
<line x1="105.80" y1="117.81" x2="109.75" y2="117.81"/>
<line x1="105.80" y1="49.50" x2="109.75" y2="49.50"/>
<line x1="192.61" y1="396.60" x2="192.61" y2="392.65"/>
<line x1="293.49" y1="396.60" x2="293.49" y2="392.65"/>
<line x1="369.80" y1="396.60" x2="369.80" y2="392.65"/>
<line x1="446.11" y1="396.60" x2="446.11" y2="392.65"/>
<line x1="546.99" y1="396.60" x2="546.99" y2="392.65"/>
<line x1="623.30" y1="396.60" x2="623.30" y2="392.65"/>
</g>
<g font-family="'Liberation Serif', serif" fill="#000" style="opacity:0.999">
<text transform="translate(99.20,398.65) scale(1.000,1.020)" font-size="28.70" text-anchor="end">0</text>
<text transform="translate(99.20,330.34) scale(1.000,1.020)" font-size="28.70" text-anchor="end">0.2</text>
<text transform="translate(99.20,262.03) scale(1.000,1.020)" font-size="28.70" text-anchor="end">0.4</text>
<text transform="translate(99.20,193.72) scale(1.000,1.020)" font-size="28.70" text-anchor="end">0.6</text>
<text transform="translate(99.20,125.41) scale(1.000,1.020)" font-size="28.70" text-anchor="end">0.8</text>
<text transform="translate(91.93,56.30) scale(0.840,1.045)" font-size="28.70" text-anchor="middle">1</text>
<text transform="translate(192.61,422.90) scale(1.000,1.020)" font-size="28.70" text-anchor="middle">0.2</text>
<text transform="translate(293.49,422.90) scale(1.000,1.020)" font-size="28.70" text-anchor="middle">0.5</text>
<text transform="translate(446.11,422.90) scale(1.000,1.020)" font-size="28.70" text-anchor="middle">2</text>
<text transform="translate(547.29,422.90) scale(1.000,1.020)" font-size="28.70" text-anchor="middle">5</text>
<text transform="translate(369.60,422.90) scale(0.840,1.045)" font-size="28.70" text-anchor="middle">1</text>
<text transform="translate(617.62,422.90) scale(0.840,1.045)" font-size="28.70" text-anchor="middle">1</text>
<text transform="translate(624.50,422.90) scale(1.000,1.020)" font-size="28.70" text-anchor="start">0</text>
<text transform="translate(153.00,30.70) scale(1.060,0.990)" font-size="28.70" text-anchor="start" font-style="italic">a</text>
<path d="M176.8,22.10 H191.9 M176.8,26.50 H191.9" stroke="#000" stroke-width="1.45" fill="none"/>
<text transform="translate(201.00,30.70) scale(1.000,1.020)" font-size="28.70" text-anchor="start">0.</text>
<text transform="translate(229.40,30.70) scale(0.840,1.045)" font-size="28.70" text-anchor="middle">1</text>
<text transform="translate(153.00,80.80) scale(1.060,0.990)" font-size="28.70" text-anchor="start" font-style="italic">a</text>
<path d="M176.8,71.20 H191.9 M176.8,75.60 H191.9" stroke="#000" stroke-width="1.45" fill="none"/>
<text transform="translate(201.00,80.80) scale(1.000,1.020)" font-size="28.70" text-anchor="start">0.2</text>
<text transform="translate(153.00,130.00) scale(1.060,0.990)" font-size="28.70" text-anchor="start" font-style="italic">a</text>
<path d="M176.8,120.80 H191.9 M176.8,125.20 H191.9" stroke="#000" stroke-width="1.45" fill="none"/>
<text transform="translate(201.00,130.00) scale(1.000,1.020)" font-size="28.70" text-anchor="start">0.3</text>
<text transform="translate(153.00,179.70) scale(1.060,0.990)" font-size="28.70" text-anchor="start" font-style="italic">a</text>
<path d="M176.8,170.70 H191.9 M176.8,175.10 H191.9" stroke="#000" stroke-width="1.45" fill="none"/>
<text transform="translate(201.00,179.70) scale(1.000,1.020)" font-size="28.70" text-anchor="start">0.4</text>
<text transform="translate(0.30,207.50) scale(1.100,1.020)" font-size="28.50" text-anchor="start" font-style="italic">c</text>
<path d="M14.9,212.7 L25.0,186.0" stroke="#000" stroke-width="1.4" fill="none"/>
<text transform="translate(27.20,207.50) scale(1.080,1.020)" font-size="28.50" text-anchor="start" font-style="italic">c</text>
<text transform="translate(40.70,212.50) scale(1.000,1.020)" font-size="21.50" text-anchor="start">0</text>
<text transform="translate(405.60,461.10) scale(1.220,1.100)" font-size="28.50" text-anchor="start" font-style="italic">L</text>
<path d="M425.6,465.7 L434.3,440.0" stroke="#000" stroke-width="1.4" fill="none"/>
<text transform="translate(435.60,461.10) scale(1.300,1.040)" font-size="28.50" text-anchor="start" font-style="italic">l</text>
</g>
<g fill="none" stroke-width="1.40">
<path d="M123.50,20.95 L129.00,32.15 L118.00,32.15 Z" stroke="#ff0000" stroke-width="1.25"/>
<rect x="119.00" y="69.50" width="9.00" height="9.00" stroke="#00a800"/>
<path d="M123.50,118.80 L129.60,125.40 L123.50,132.00 L117.40,125.40 Z" stroke="#0000ff" stroke-width="1.15"/>
<circle cx="123.50" cy="175.45" r="4.80" stroke="#000000"/>
</g>
</svg>
</body></html>
